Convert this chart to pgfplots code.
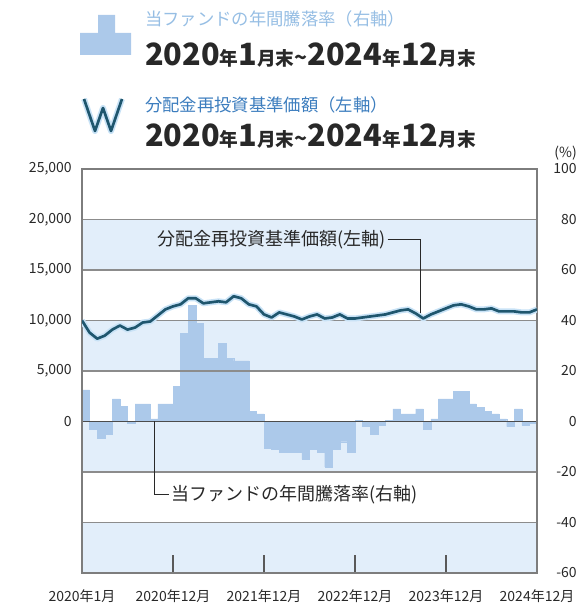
\documentclass[border=0pt]{standalone}
\usepackage{fontspec}
\setmainfont{Noto Sans CJK JP}
\usepackage{pgfplots}
\pgfplotsset{compat=1.18}
\usepackage{pgfplotstable}

\definecolor{barblue}{RGB}{172,201,234}
\definecolor{bandblue}{RGB}{226,238,250}
\definecolor{gridgray}{RGB}{140,140,140}
\definecolor{framegray}{RGB}{125,125,125}
\definecolor{linedark}{RGB}{31,86,110}
\definecolor{glow}{RGB}{200,226,246}
\definecolor{titlelight}{RGB}{150,190,228}
\definecolor{titleblue}{RGB}{60,125,190}
\definecolor{txt}{RGB}{40,40,40}

\pgfplotstableread{
x y
0.5 12.5
1.5 -3
2.5 -6.5
3.5 -5
4.5 9
5.5 6
6.5 -0.5
7.5 7
8.5 7
9.5 1
10.5 7
11.5 7
12.5 14
13.5 35
14.5 46
15.5 39
16.5 25
17.5 25
18.5 31
19.5 25
20.5 24
21.5 24
22.5 4
23.5 3
24.5 -10.5
25.5 -11
26.5 -12
27.5 -12
28.5 -12
29.5 -15
30.5 -11
31.5 -12
32.5 -18
33.5 -11
34.5 -8
35.5 -12
36.5 0.5
37.5 -2
38.5 -5
39.5 -1.5
40.5 0.5
41.5 5
42.5 3
43.5 3
44.5 5
45.5 -3
46.5 1
47.5 9
48.5 9
49.5 12
50.5 12
51.5 7
52.5 5.5
53.5 4
54.5 3
55.5 1
56.5 -2
57.5 5
58.5 -1.5
59.5 -0.5
}\barsdata

\pgfplotstableread{
x y
0 10000
1 8800
2 8200
3 8500
4 9100
5 9500
6 9100
7 9300
8 9800
9 9900
10 10500
11 11100
12 11400
13 11600
14 12200
15 12200
16 11700
17 11800
18 11900
19 11800
20 12400
21 12200
22 11600
23 11400
24 10600
25 10300
26 10800
27 10600
28 10400
29 10100
30 10400
31 10600
32 10200
33 10300
34 10600
35 10200
36 10200
37 10300
38 10400
39 10500
40 10600
41 10800
42 11000
43 11100
44 10700
45 10200
46 10600
47 10900
48 11200
49 11500
50 11600
51 11400
52 11100
53 11100
54 11200
55 10900
56 10900
57 10900
58 10800
59 10800
60 11100
}\navdata

\newcommand{\sm}[1]{{\fontsize{14}{16}\selectfont #1}}
\newcommand{\datetext}{{\fontsize{23}{26}\selectfont\bfseries 2020\sm{年}1\sm{月末}{\fontsize{16}{17}\selectfont\textasciitilde}2024\sm{年}12\sm{月末}}}

\begin{document}
\begin{tikzpicture}[x=1pt,y=1pt]
\pgfplotsset{every tick label/.append style={font=\fontsize{10.5}{12}\selectfont, text=txt}}
\begin{axis}[name=A, at={(0,0)}, anchor=south west, scale only axis,
  width=341.25pt, height=303pt,
  xmin=0, xmax=60, ymin=-60, ymax=100,
  axis on top,
  axis line style={draw=framegray, line width=1.1pt},
  xtick={0,12,24,36,48,60},
  xticklabels={2020年1月,2020年12月,2021年12月,2022年12月,2023年12月,2024年12月},
  xtick pos=bottom, xtick align=inside, major tick length=13.5pt,
  x tick style={draw=black!65, line width=0.8pt},
  xticklabel style={inner sep=0pt, yshift=-12.5pt},
  ytick={-60,-40,-20,0,20,40,60,80,100},
  ytick pos=right, yticklabel pos=right,
  y tick style={draw=none},
  yticklabel style={anchor=east, inner sep=0pt, xshift=30pt},
  /pgf/number format/assume math mode=true,
]
\fill[bandblue] (axis cs:0,60) rectangle (axis cs:60,80);
\fill[bandblue] (axis cs:0,20) rectangle (axis cs:60,40);
\fill[bandblue] (axis cs:0,-20) rectangle (axis cs:60,0);
\fill[bandblue] (axis cs:0,-60) rectangle (axis cs:60,-40);
\addplot[ybar, bar width=1, bar shift=0, fill=barblue, draw=barblue, line width=0.2pt] table[x=x,y=y]{\barsdata};
\draw[gridgray, line width=0.8pt] (axis cs:0,80) -- (axis cs:60,80);
\draw[gridgray, line width=0.8pt] (axis cs:0,60) -- (axis cs:60,60);
\draw[gridgray, line width=0.8pt] (axis cs:0,40) -- (axis cs:60,40);
\draw[gridgray, line width=0.8pt] (axis cs:0,20) -- (axis cs:60,20);
\draw[gridgray, line width=0.8pt] (axis cs:0,-20) -- (axis cs:60,-20);
\draw[gridgray, line width=0.8pt] (axis cs:0,-40) -- (axis cs:60,-40);
\draw[black!70, line width=1.1pt] (axis cs:0,0) -- (axis cs:60,0);
\draw[txt, line width=0.6pt] (axis cs:9.5,0) -- (axis cs:9.5,-29) -- (axis cs:11.5,-29);
\node[anchor=west, inner sep=1pt, text=txt, font=\fontsize{13.5}{15}\selectfont] at (axis cs:11.6,-29) {当ファンドの年間騰落率(右軸)};
\end{axis}
\begin{axis}[at={(0,0)}, anchor=south west, scale only axis,
  width=341.25pt, height=303pt,
  xmin=0, xmax=60, ymin=-15000, ymax=25000,
  axis x line=none, axis y line*=left, y axis line style={draw=none},
  ytick={0,5000,10000,15000,20000,25000},
  scaled y ticks=false,
  yticklabel style={anchor=east, inner sep=0pt, xshift=-7.5pt,
    /pgf/number format/.cd, fixed, 1000 sep={,}, min exponent for 1000 sep=3},
  y tick style={draw=none},
  /pgf/number format/assume math mode=true,
]
\addplot[glow, line width=4.5pt, line join=round, mark=none] table[x=x,y=y]{\navdata};
\addplot[linedark, line width=2pt, line join=round, mark=none] table[x=x,y=y]{\navdata};
\draw[txt, line width=0.6pt] (axis cs:40.3,18000) -- (axis cs:44.6,18000) -- (axis cs:44.6,10700);
\node[anchor=east, inner sep=1pt, text=txt, font=\fontsize{13.5}{15}\selectfont] at (axis cs:40.2,18000) {分配金再投資基準価額(左軸)};
\end{axis}
\node[anchor=east, inner sep=0pt, text=txt, font=\fontsize{10.5}{12}\selectfont] at ([xshift=30pt, yshift=12pt]A.north east) {(\%)};
% legend
\fill[barblue] (-1.5,388.5) -- (-1.5,405) -- (12,405) -- (12,418.5) -- (24.75,418.5) -- (24.75,405) -- (36.75,405) -- (36.75,388.5) -- cycle;
\draw[glow, line width=4.5pt, line join=round] (1.5,355.5) -- (9.75,331.5) -- (15.75,348.75) -- (21.75,331.5) -- (30,355.5);
\draw[linedark, line width=2pt, line join=round] (1.5,355.5) -- (9.75,331.5) -- (15.75,348.75) -- (21.75,331.5) -- (30,355.5);
\node[anchor=west, inner sep=0pt, text=titlelight, font=\fontsize{13}{15}\selectfont] at (47.25,415.5) {当ファンドの年間騰落率（右軸）};
\node[anchor=base west, inner sep=0pt, text=txt] at (47.25,380.5) {\datetext};
\node[anchor=west, inner sep=0pt, text=titleblue, font=\fontsize{13}{15}\selectfont] at (47.25,351) {分配金再投資基準価額（左軸）};
\node[anchor=base west, inner sep=0pt, text=txt] at (47.25,320) {\datetext};
\pgfresetboundingbox
\path (-61.5,-24) rectangle (373.5,429.75);
\end{tikzpicture}
\end{document}
